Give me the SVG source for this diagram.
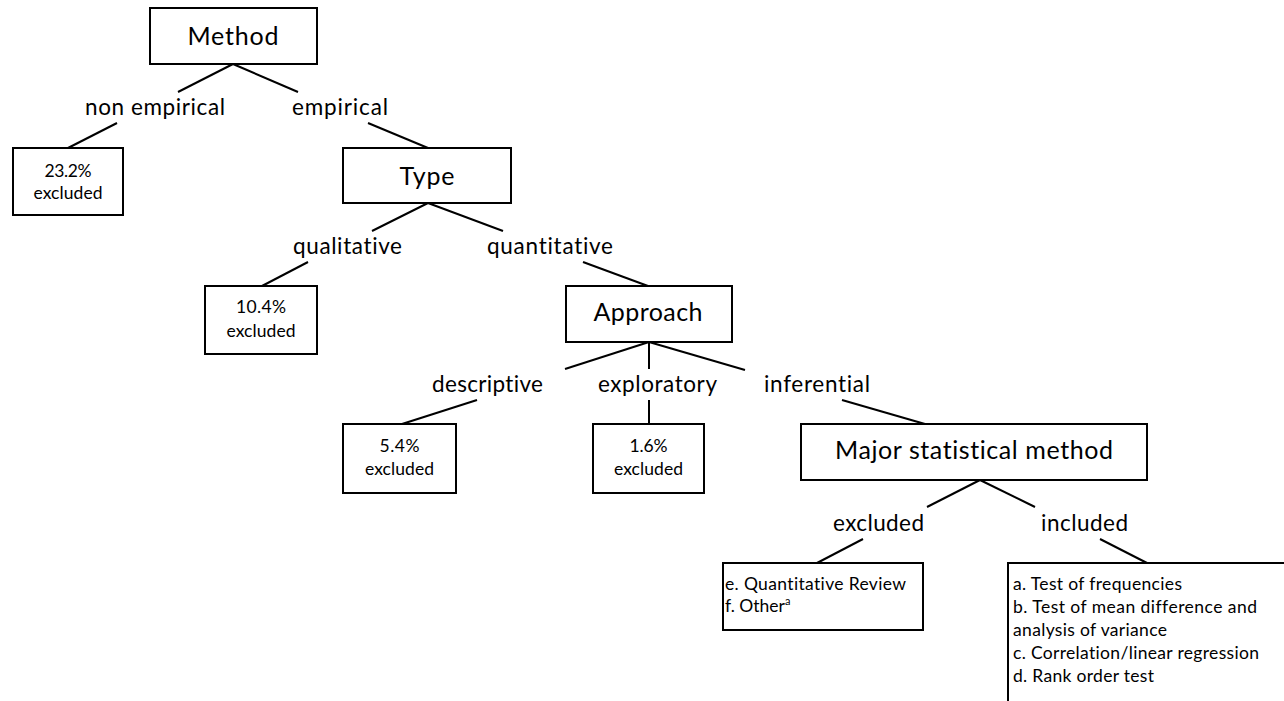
<svg xmlns="http://www.w3.org/2000/svg" width="1284" height="701" viewBox="0 0 1284 701">
<style>
.box{fill:#fff;stroke:#000;stroke-width:2}
.ln{stroke:#000;stroke-width:2;fill:none}
text{font-family:Lato,"Open Sans","Liberation Sans",sans-serif;fill:#000;font-variant-ligatures:none;font-feature-settings:"liga" 0,"clig" 0}
.t{font-size:25px;text-anchor:middle}
.lb{font-size:22.5px;text-anchor:middle}
.s{font-size:17.5px;text-anchor:middle}
.l{font-size:17.5px}
</style>
<rect width="1284" height="701" fill="#fff"/>
<g id="connectors">
<line class="ln" x1="233" y1="64" x2="178" y2="92"/>
<line class="ln" x1="233" y1="64" x2="298" y2="92"/>
<line class="ln" x1="117" y1="123" x2="68" y2="148"/>
<line class="ln" x1="368" y1="123" x2="428" y2="148"/>
<line class="ln" x1="428" y1="203" x2="372" y2="231"/>
<line class="ln" x1="428" y1="203" x2="503" y2="231"/>
<line class="ln" x1="308" y1="262" x2="262" y2="286"/>
<line class="ln" x1="583" y1="262" x2="648" y2="286"/>
<line class="ln" x1="649" y1="342" x2="565" y2="369"/>
<line class="ln" x1="649" y1="342" x2="649" y2="369"/>
<line class="ln" x1="649" y1="342" x2="745" y2="370"/>
<line class="ln" x1="477" y1="400" x2="402" y2="424"/>
<line class="ln" x1="649" y1="400" x2="649" y2="424"/>
<line class="ln" x1="842" y1="400" x2="925" y2="424"/>
<line class="ln" x1="980" y1="480" x2="927" y2="507"/>
<line class="ln" x1="980" y1="480" x2="1035" y2="507"/>
<line class="ln" x1="863" y1="539" x2="817" y2="563"/>
<line class="ln" x1="1100" y1="539" x2="1147" y2="563"/>
</g>
<g id="method">
<rect class="box" x="150" y="8" width="167" height="56"/>
<text class="t" x="233" y="45" textLength="91">Method</text>
</g>
<g id="label-nonempirical"><text class="lb" x="155" y="115" textLength="140">non empirical</text></g>
<g id="label-empirical"><text class="lb" x="340" y="115" textLength="96">empirical</text></g>
<g id="excl-23">
<rect class="box" x="13" y="148" width="110" height="67"/>
<text class="s" x="68" y="177" textLength="47">23.2%</text>
<text class="s" x="68" y="199" textLength="69">excluded</text>
</g>
<g id="type">
<rect class="box" x="343" y="148" width="168" height="55"/>
<text class="t" x="427" y="185" textLength="55">Type</text>
</g>
<g id="label-qualitative"><text class="lb" x="347.5" y="254" textLength="109">qualitative</text></g>
<g id="label-quantitative"><text class="lb" x="550" y="254" textLength="126">quantitative</text></g>
<g id="excl-10">
<rect class="box" x="205" y="286" width="112" height="68"/>
<text class="s" x="261" y="313" textLength="50">10.4%</text>
<text class="s" x="261" y="337" textLength="69">excluded</text>
</g>
<g id="approach">
<rect class="box" x="566" y="286" width="166" height="56"/>
<text class="t" x="648" y="321" textLength="109">Approach</text>
</g>
<g id="label-descriptive"><text class="lb" x="487.5" y="392" textLength="111">descriptive</text></g>
<g id="label-exploratory"><text class="lb" x="657.5" y="392" textLength="119">exploratory</text></g>
<g id="label-inferential"><text class="lb" x="817" y="392" textLength="106">inferential</text></g>
<g id="excl-5">
<rect class="box" x="343" y="424" width="113" height="69"/>
<text class="s" x="399.5" y="452" textLength="40">5.4%</text>
<text class="s" x="399.5" y="475" textLength="69">excluded</text>
</g>
<g id="excl-1">
<rect class="box" x="593" y="424" width="111" height="69"/>
<text class="s" x="648.5" y="452" textLength="38">1.6%</text>
<text class="s" x="648.5" y="475" textLength="69">excluded</text>
</g>
<g id="major">
<rect class="box" x="801" y="424" width="346" height="56"/>
<text class="t" x="974" y="459" textLength="278">Major statistical method</text>
</g>
<g id="label-excluded"><text class="lb" x="878.5" y="531" textLength="91">excluded</text></g>
<g id="label-included"><text class="lb" x="1084.5" y="531" textLength="87">included</text></g>
<g id="excluded-box">
<rect class="box" x="723" y="563" width="200" height="67"/>
<text class="l" x="725" y="590" textLength="181">e. Quantitative Review</text>
<text class="l" x="725" y="612">f. Other<tspan font-size="11" dy="-7">a</tspan></text>
</g>
<g id="included-box">
<rect class="box" x="1008" y="563" width="300" height="160"/>
<text class="l" x="1013" y="590" textLength="169">a. Test of frequencies</text>
<text class="l" x="1013" y="613" textLength="244">b. Test of mean difference and</text>
<text class="l" x="1013" y="636" textLength="154">analysis of variance</text>
<text class="l" x="1013" y="659" textLength="246">c. Correlation/linear regression</text>
<text class="l" x="1013" y="682" textLength="141">d. Rank order test</text>
</g>
</svg>
